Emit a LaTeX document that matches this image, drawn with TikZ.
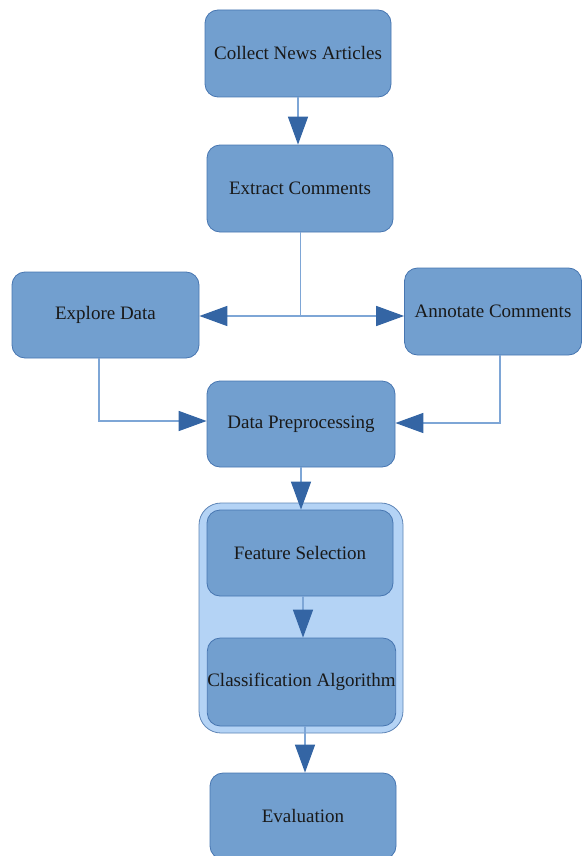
\documentclass[tikz,border=0pt]{standalone}
\usepackage{fontspec}
\setmainfont{Liberation Serif}
\usetikzlibrary{arrows.meta,positioning,calc}
\definecolor{boxfill}{HTML}{729FCF}
\definecolor{boxline}{HTML}{3465A4}
\definecolor{linecol}{HTML}{7EA6D6}
\definecolor{groupfill}{HTML}{B4D3F5}
\begin{document}
\begin{tikzpicture}[x=1pt,y=-1pt,
  stepbox/.style={draw=boxline!70!boxfill,line width=0.8pt,fill=boxfill,rounded corners=13pt,
    minimum width=186pt,minimum height=87pt,inner sep=0pt,
    font=\fontsize{19}{22}\selectfont,text=black!90},
  arr/.style={draw=linecol,line width=1.5pt,
    -{Triangle[length=28pt,width=20pt,color=boxline,fill=boxline]}},
  plain/.style={draw=linecol,line width=1.5pt}]
\useasboundingbox (0,0) rectangle (582,856);
% group box
\node[draw=boxline!80,line width=0.8pt,fill=groupfill,rounded corners=22pt,
  minimum width=204pt,minimum height=230pt,inner sep=0pt] (group) at (301,618) {};
\node[stepbox] (collect) at (298,53.5) {Collect News Articles};
\node[stepbox] (extract) at (300,188.5) {Extract Comments};
\node[stepbox,minimum width=187pt,minimum height=86pt] (explore) at (105.5,315) {Explore Data};
\node[stepbox,minimum width=177pt] (annotate) at (493,311.5) {Annotate Comments};
\node[stepbox,minimum width=188pt,minimum height=86pt] (prep) at (301,424) {Data Preprocessing};
\node[stepbox,minimum height=86pt] (feat) at (300,553) {Feature Selection};
\node[stepbox,minimum width=187pt,minimum height=88pt] (classif) at (301.5,682) {Classification Algorithm};
\node[stepbox,minimum height=86pt] (eval) at (303,816) {Evaluation};
\coordinate (split) at (300.5,316);
\draw[arr] (collect.south) -- (collect.south |- extract.north);
\draw[plain] ([xshift=0.5pt]extract.south) -- (split);
\draw[arr] (split) -- (split -| explore.east);
\draw[arr] (split) -- (split -| annotate.west);
\draw[arr] ([xshift=-6.5pt]explore.south) |- ([yshift=3pt]prep.west);
\draw[arr] ([xshift=7pt]annotate.south) |- ([yshift=1pt]prep.east);
\draw[arr] (prep.south) -- (prep.south |- feat.north);
\draw[arr] ([xshift=3pt]feat.south) -- ([xshift=3pt]feat.south |- classif.north);
\draw[arr] ([xshift=3.5pt]classif.south) -- ([xshift=3.5pt]classif.south |- eval.north);
\end{tikzpicture}
\end{document}
